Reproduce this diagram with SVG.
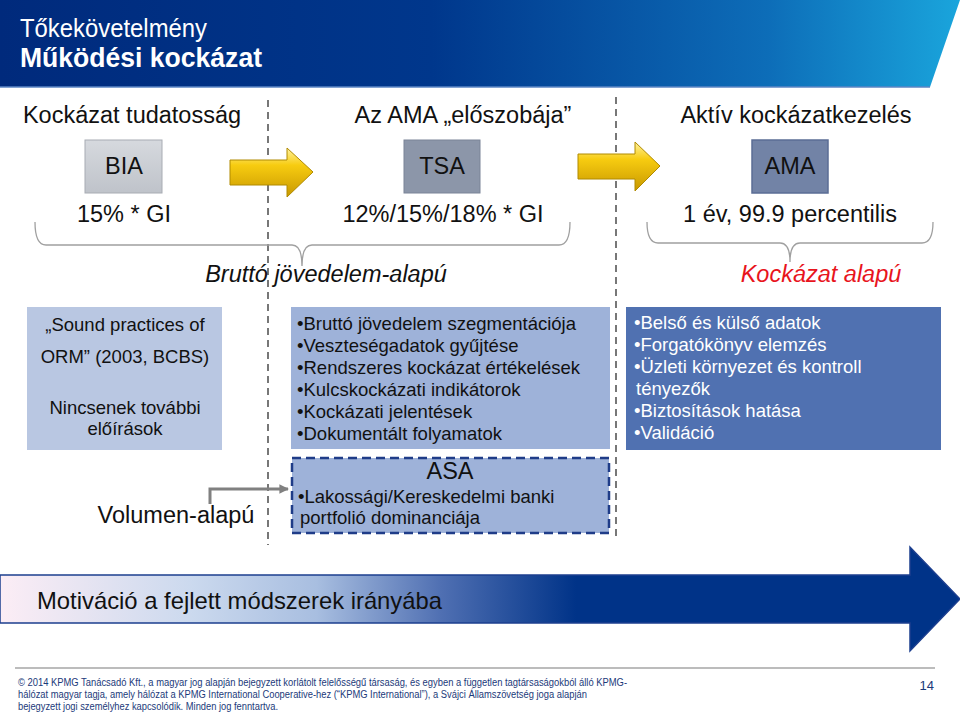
<svg xmlns="http://www.w3.org/2000/svg" width="960" height="712" viewBox="0 0 960 712">
<defs>
<style>
text{font-family:"Liberation Sans",Arial,sans-serif;fill:#111}
.h{font-size:23.5px}
.b{font-size:18.5px}
.w{fill:#fff}
.it{font-style:italic}
.ft{font-size:10px;fill:#1b3a7a}
.dash{stroke:#777;stroke-width:2;stroke-dasharray:7 5;fill:none}
.brace{stroke:#a0a0a0;stroke-width:1.3;fill:none}
.yarrow{fill:url(#ygrad);stroke:#b08a00;stroke-width:1}
</style>
<linearGradient id="hdr" x1="0" y1="0" x2="1" y2="0">
<stop offset="0" stop-color="#002a7c"/>
<stop offset="0.45" stop-color="#00378c"/>
<stop offset="0.8" stop-color="#0d6db8"/>
<stop offset="1" stop-color="#1aa5dc"/>
</linearGradient>
<linearGradient id="ygrad" x1="0" y1="0" x2="0" y2="1">
<stop offset="0" stop-color="#fff2a0"/>
<stop offset="0.35" stop-color="#f7cc10"/>
<stop offset="1" stop-color="#c89800"/>
</linearGradient>
<linearGradient id="big" x1="0" y1="0" x2="960" y2="0" gradientUnits="userSpaceOnUse">
<stop offset="0" stop-color="#fcedf5"/>
<stop offset="0.2" stop-color="#cbd9ee"/>
<stop offset="0.33" stop-color="#a8bee0"/>
<stop offset="0.46" stop-color="#4f6fb2"/>
<stop offset="0.6" stop-color="#003388"/>
<stop offset="1" stop-color="#003388"/>
</linearGradient>
<linearGradient id="bia" x1="0" y1="0" x2="0" y2="1">
<stop offset="0" stop-color="#d6d9de"/>
<stop offset="1" stop-color="#bfc3ca"/>
</linearGradient>
<marker id="gh" viewBox="0 0 10 10" refX="9" refY="5" markerWidth="3.2" markerHeight="3.2" orient="auto">
<path d="M0,0 L10,5 L0,10 z" fill="#808080"/>
</marker>
</defs>
<rect x="0" y="0" width="960" height="712" fill="#fff"/>

<g id="header">
<polygon points="0,0 960,0 930,87 0,87" fill="url(#hdr)"/>
<line x1="0" y1="87" x2="930" y2="87" stroke="#5b86c4" stroke-width="1.5"/>
<text x="20" y="37" font-size="25" class="w" textLength="187" lengthAdjust="spacingAndGlyphs">Tőkekövetelmény</text>
<text x="20" y="67" font-size="27" font-weight="bold" class="w" textLength="242" lengthAdjust="spacingAndGlyphs">Működési kockázat</text>
</g>

<g id="dividers">
<line class="dash" x1="268" y1="100" x2="268" y2="545"/>
<line class="dash" x1="616" y1="97" x2="616" y2="540"/>
</g>

<g id="headings">
<text class="h" x="132" y="123" text-anchor="middle">Kockázat tudatosság</text>
<text class="h" x="463" y="123" text-anchor="middle">Az AMA „előszobája”</text>
<text class="h" x="796" y="123" text-anchor="middle">Aktív kockázatkezelés</text>
</g>

<g id="bia">
<rect x="85" y="140" width="77" height="53" fill="url(#bia)" stroke="#a8acb3" stroke-width="1"/>
<text class="h" x="124" y="174" text-anchor="middle" fill="#222">BIA</text>
<text class="h" x="124" y="222" text-anchor="middle">15% * GI</text>
</g>
<g id="tsa">
<rect x="404" y="140" width="76" height="53" fill="#8c96a9" stroke="#7b8497" stroke-width="1"/>
<text class="h" x="442" y="174" text-anchor="middle">TSA</text>
<text class="h" x="443" y="222" text-anchor="middle">12%/15%/18% * GI</text>
</g>
<g id="ama">
<rect x="752" y="140" width="76" height="53" fill="#7283a6" stroke="#5b6d95" stroke-width="1.5"/>
<text class="h" x="790" y="174" text-anchor="middle">AMA</text>
<text class="h" x="790" y="222" text-anchor="middle">1 év, 99.9 percentilis</text>
</g>

<g id="braces">
<path class="brace" d="M35,222 Q35,245 46,245 L292,245 Q302,245 302,266 Q302,245 312,245 L559,245 Q570,245 570,222"/>
<path class="brace" d="M647,222 Q647,243 658,243 L780,243 Q790,243 790,262 Q790,243 800,243 L922,243 Q933,243 933,222"/>
<text class="h it" x="326" y="282" text-anchor="middle" fill="#222">Bruttó jövedelem-alapú</text>
<text class="h it" x="821" y="282" text-anchor="middle" style="fill:#e8141c">Kockázat alapú</text>
</g>

<g id="left-box">
<rect x="27" y="307" width="195" height="143" fill="#b9c7e2"/>
<text class="b" x="125" y="331" text-anchor="middle">„Sound practices of</text>
<text class="b" x="125" y="363" text-anchor="middle">ORM” (2003, BCBS)</text>
<text class="b" x="125" y="414" text-anchor="middle">Nincsenek további</text>
<text class="b" x="125" y="435" text-anchor="middle">előírások</text>
</g>

<g id="middle-box">
<rect x="291" y="307" width="319" height="142" fill="#9eb2d9"/>
<text class="b" x="297" y="330">•Bruttó jövedelem szegmentációja</text>
<text class="b" x="297" y="352">•Veszteségadatok gyűjtése</text>
<text class="b" x="297" y="374">•Rendszeres kockázat értékelések</text>
<text class="b" x="297" y="396">•Kulcskockázati indikátorok</text>
<text class="b" x="297" y="418">•Kockázati jelentések</text>
<text class="b" x="297" y="440">•Dokumentált folyamatok</text>
</g>

<g id="asa-box">
<rect x="292" y="458" width="317" height="75" fill="#9eb2d9" stroke="#1f3c88" stroke-width="2.5" stroke-dasharray="9 5"/>
<text class="h" x="450" y="479" text-anchor="middle">ASA</text>
<text class="b" x="298" y="503">•Lakossági/Kereskedelmi banki</text>
<text class="b" x="300" y="524">portfolió dominanciája</text>
</g>

<g id="right-box">
<rect x="626" y="307" width="315" height="143" fill="#5071b1"/>
<text class="b w" x="634" y="329">•Belső és külső adatok</text>
<text class="b w" x="634" y="351">•Forgatókönyv elemzés</text>
<text class="b w" x="634" y="373">•Üzleti környezet és kontroll</text>
<text class="b w" x="636" y="395">tényezők</text>
<text class="b w" x="634" y="417">•Biztosítások hatása</text>
<text class="b w" x="634" y="439">•Validáció</text>
</g>

<g id="volumen">
<text class="h" x="176" y="523" text-anchor="middle">Volumen-alapú</text>
</g>

<g id="connectors">
<polygon class="yarrow" points="230,160 287,160 287,148 313,172 287,197 287,185 230,185"/>
<polygon class="yarrow" points="578,154 635,154 635,142 660,166 635,191 635,179 578,179"/>
<polyline points="210,504 210,489 288,489" fill="none" stroke="#808080" stroke-width="3" marker-end="url(#gh)"/>
</g>

<g id="motivation">
<polygon points="0,575 910,575 910,547 960,599 910,651 910,623 0,623" fill="url(#big)" stroke="#1d3f8f" stroke-width="1.5"/>
<text x="37" y="609" font-size="24" textLength="405" lengthAdjust="spacingAndGlyphs">Motiváció a fejlett módszerek irányába</text>
</g>

<g id="footer">
<line x1="15" y1="668" x2="935" y2="668" stroke="#bcbcbc" stroke-width="2"/>
<text class="ft" x="18" y="686" textLength="609" lengthAdjust="spacingAndGlyphs">© 2014 KPMG Tanácsadó Kft., a magyar jog alapján bejegyzett korlátolt felelősségű társaság, és egyben a független tagtársaságokból álló KPMG-</text>
<text class="ft" x="18" y="698" textLength="569" lengthAdjust="spacingAndGlyphs">hálózat magyar tagja, amely hálózat a KPMG International Cooperative-hez (“KPMG International”), a Svájci Államszövetség joga alapján</text>
<text class="ft" x="18" y="710" textLength="260" lengthAdjust="spacingAndGlyphs">bejegyzett jogi személyhez kapcsolódik. Minden jog fenntartva.</text>
<text x="934" y="690" font-size="13" text-anchor="end" style="fill:#1b3a7a">14</text>
</g>
</svg>
